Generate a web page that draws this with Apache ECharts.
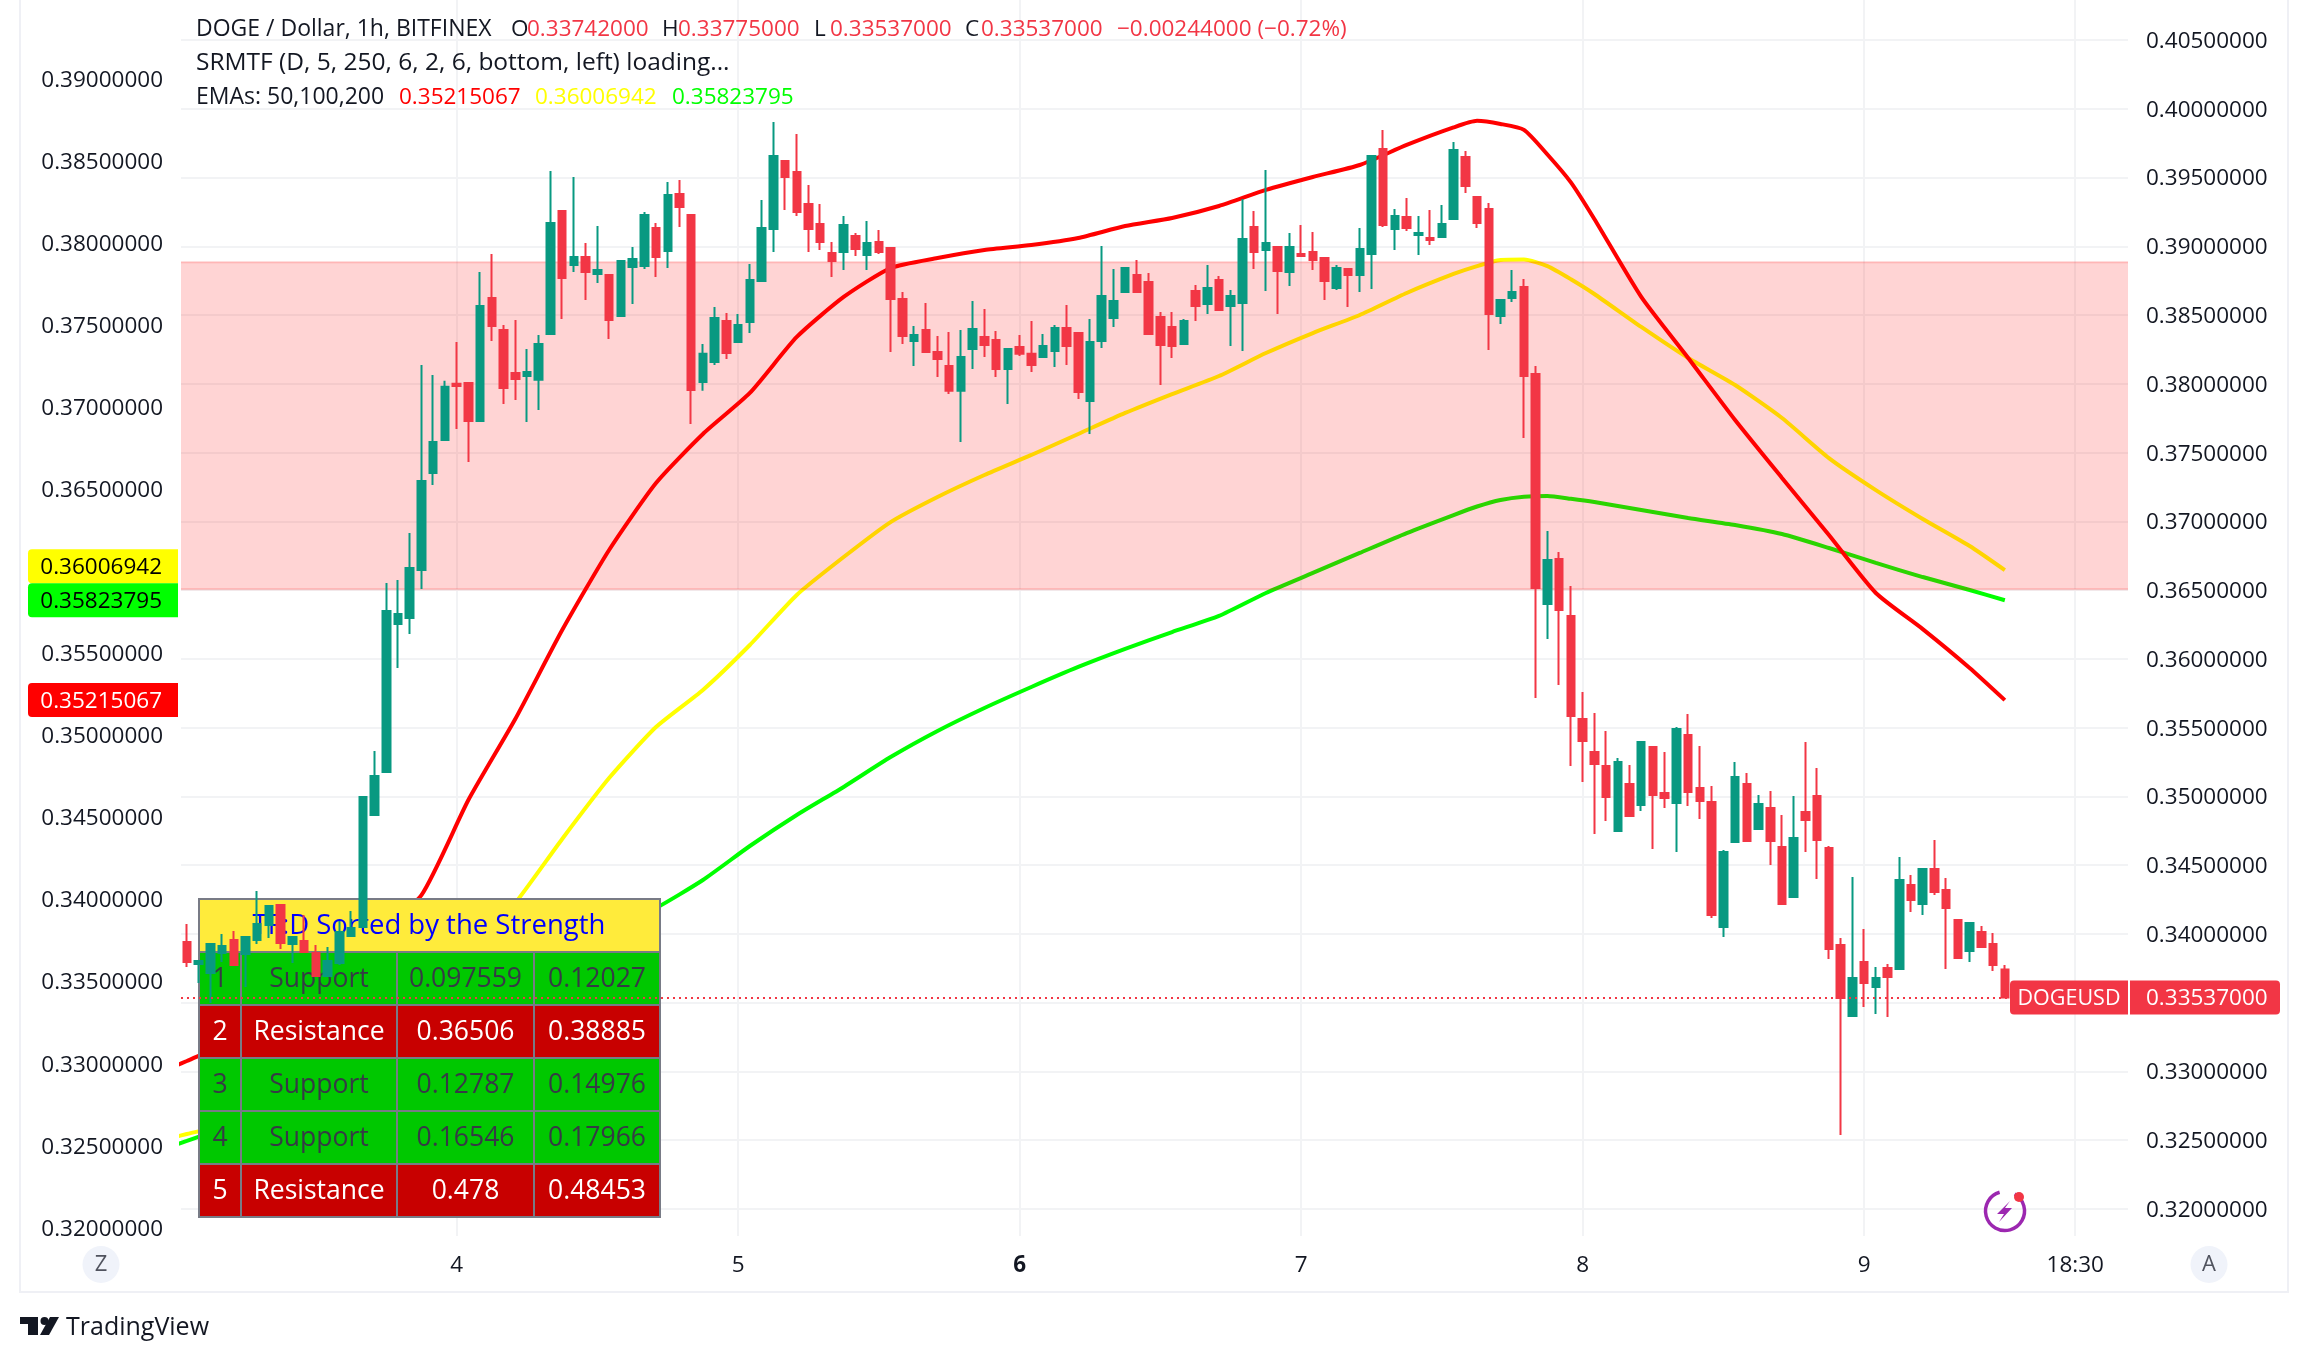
<!DOCTYPE html>
<html><head><meta charset="utf-8">
<style>html,body{margin:0;padding:0;background:#fff}#c{width:2308px;height:1362px}</style>
<script src="https://cdn.jsdelivr.net/npm/echarts@6/dist/echarts.min.js"></script>
</head><body><div id="c"></div>
<script>
// OHLC rows per calendar day: [open, close, low, high]
const day3 = [[.33942,.33796,.33760,.34072],[.33782,.33803,.33643,.33803],[.33716,.33927,.33498,.33934],[.33862,.33913,.33796,.34000],[.33956,.33774,.33774,.34022],[.33854,.33978,.33614,.33978],[.33956,.34072,.33927,.34312],[.34065,.34203,.33971,.34211],[.34211,.33934,.33891,.34211],[.33927,.33978,.33789,.33985],[.33949,.33869,.33869,.34138],[.33862,.33694,.33694,.33920],[.33694,.33803,.33694,.33905],[.33789,.34014,.33774,.34094],[.33985,.34043,.33985,.34167],[.34051,.34996,.34051,.35003],[.34865,.35149,.34865,.35330],[.35177,.36348,.35177,.36552],[.36254,.36326,.35934,.36573],[.36297,.36661,.36181,.36915],[.36647,.37294,.36508,.38137],[.37352,.37578,.37265,.38065],[.37592,.37978,.37592,.38022]];
const day4 = [[.38000,.37985,.37672,.38305],[.38007,.37730,.37432,.38007],[.37730,.38566,.37730,.38813],[.38625,.38421,.38312,.38944],[.38392,.37970,.37854,.38428],[.38079,.38036,.37883,.38465],[.38057,.38086,.37723,.38254],[.38029,.38290,.37810,.38355],[.38363,.39170,.38363,.39548],[.39257,.38770,.38472,.39257],[.38864,.38923,.38813,.39504],[.38923,.38813,.38610,.39024],[.38799,.38828,.38733,.39148],[.38791,.38465,.38326,.38791],[.38494,.38894,.38494,.38894],[.38850,.38908,.38581,.38995],[.38857,.39228,.38835,.39250],[.39133,.38923,.38777,.39170],[.38966,.39373,.38843,.39468],[.39380,.39286,.39141,.39482],[.39228,.37956,.37708,.39228],[.38014,.38218,.37949,.38290],[.38159,.38479,.38137,.38559],[.38457,.38225,.38181,.38515]];
const day5 = [[.38305,.38428,.38305,.38508],[.38450,.38755,.38370,.38872],[.38748,.39133,.38748,.39337],[.39126,.39657,.38959,.39904],[.39620,.39504,.39264,.39620],[.39541,.39250,.39221,.39817],[.39308,.39126,.38959,.39446],[.39162,.39032,.38973,.39308],[.38952,.38894,.38777,.39032],[.38959,.39155,.38828,.39221],[.39075,.38980,.38930,.39097],[.38937,.39024,.38828,.39184],[.39032,.38959,.38944,.39119],[.38988,.38617,.38232,.38988],[.38617,.38348,.38290,.38668],[.38312,.38355,.38130,.38421],[.38392,.38232,.38232,.38588],[.38232,.38181,.38050,.38348],[.38130,.37949,.37926,.38377],[.37949,.38196,.37578,.38392],[.38254,.38399,.38108,.38603],[.38341,.38283,.38196,.38545],[.38319,.38108,.38050,.38385],[.38108,.38254,.37854,.38254]];
const day6 = [[.38268,.38218,.38203,.38355],[.38218,.38137,.38086,.38457],[.38196,.38276,.38196,.38363],[.38239,.38406,.38123,.38428],[.38406,.38276,.38137,.38574],[.38370,.37941,.37890,.38370],[.37876,.38305,.37636,.38472],[.38312,.38639,.38261,.39003],[.38479,.38603,.38414,.38835],[.38668,.38843,.38661,.38843],[.38791,.38668,.38668,.38901],[.38741,.38363,.38363,.38806],[.38486,.38283,.37992,.38523],[.38414,.38276,.38188,.38523],[.38290,.38457,.38290,.38472],[.38675,.38566,.38457,.38719],[.38581,.38697,.38508,.38864],[.38755,.38537,.38530,.38784],[.38566,.38639,.38276,.38683],[.38588,.39053,.38239,.39344],[.39141,.38959,.38835,.39257],[.38973,.39024,.38675,.39555],[.38995,.38821,.38508,.38995],[.38813,.38995,.38712,.39097]];
const day7 = [[.38944,.38930,.38930,.39155],[.38959,.38901,.38828,.39104],[.38915,.38748,.38610,.38915],[.38697,.38843,.38683,.38864],[.38835,.38791,.38559,.38835],[.38791,.38980,.38668,.39133],[.38944,.39657,.38690,.39657],[.39708,.39155,.39141,.39846],[.39126,.39221,.38973,.39272],[.39213,.39133,.39112,.39352],[.39082,.39097,.38937,.39221],[.39061,.39046,.39010,.39264],[.39068,.39162,.39068,.39301],[.39199,.39700,.39199,.39759],[.39650,.39439,.39388,.39693],[.39359,.39170,.39133,.39359],[.39272,.38508,.38246,.39315],[.38494,.38610,.38435,.38610],[.38625,.38668,.38595,.38828],[.38705,.38057,.37607,.38763],[.38072,.36515,.35716,.38130],[.36399,.36719,.36145,.36930],[.36727,.36356,.35810,.36778],[.36312,.35585,.35221,.36530]];
const day8 = [[.35563,.35403,.35105,.35759],[.35323,.35236,.34727,.35607],[.35221,.34996,.34821,.35476],[.34749,.35250,.34749,.35279],[.35090,.34858,.34851,.35229],[.34938,.35396,.34894,.35396],[.35360,.35011,.34618,.35360],[.35025,.34989,.34916,.35323],[.34952,.35490,.34596,.35505],[.35447,.35032,.34931,.35599],[.35061,.34967,.34836,.35367],[.34960,.34138,.34116,.35076],[.34051,.34596,.33978,.34611],[.34669,.35141,.34669,.35250],[.35090,.34676,.34676,.35170],[.34763,.34945,.34763,.35011],[.34916,.34676,.34501,.35040],[.34632,.34218,.34218,.34865],[.34269,.34698,.34269,.35003],[.34887,.34829,.34596,.35396],[.35003,.34683,.34400,.35207],[.34625,.33891,.33818,.34640],[.33920,.33534,.32538,.33971],[.33403,.33680,.33403,.34414]];
const day9 = [[.33796,.33643,.33469,.34036],[.33614,.33680,.33418,.33760],[.33752,.33687,.33396,.33782],[.33745,.34392,.33738,.34560],[.34356,.34247,.34160,.34429],[.34218,.34472,.34138,.34472],[.34472,.34305,.34283,.34683],[.34320,.34189,.33745,.34407],[.34102,.33825,.33825,.34102],[.33876,.34080,.33796,.34080],[.34014,.33905,.33905,.34058],[.33927,.33774,.33731,.34007],[.33742,.33537,.33537,.33775]];

// EMA readings, mostly every fourth candle (extra readings around the peak), plus the last one
const emaIndex = [-1,0,4,8,12,16,20,24,28,32,36,40,44,48,52,56,60,64,68,72,76,80,84,88,92,96,100,104,108,110,112,114,116,118,120,124,128,132,136,140,144,148,152,155];
const ema50 = [.32985,.33016,.33144,.33327,.33540,.33784,.34027,.34606,.35100,.35642,.36130,.36538,.36837,.37087,.37428,.37672,.37848,.37909,.37958,.37988,.38031,.38104,.38153,.38226,.38324,.38403,.38476,.38598,.38705,.38745,.38726,.38690,.38540,.38370,.38147,.37672,.37300,.36922,.36569,.36221,.35868,.35648,.35411,.35215067];
const ema100 = [.32553,.32571,.32638,.32748,.32931,.33144,.33388,.33662,.33979,.34369,.34740,.35051,.35277,.35551,.35856,.36087,.36300,.36453,.36587,.36709,.36837,.36965,.37080,.37190,.37330,.37452,.37562,.37696,.37812,.37860,.37897,.37900,.37860,.37780,.37690,.37489,.37300,.37135,.36934,.36690,.36495,.36319,.36154,.36006942];
const ema200 = [.32504,.32529,.32632,.32760,.32888,.33022,.33174,.33339,.33491,.33644,.33814,.33948,.34119,.34326,.34515,.34686,.34868,.35027,.35167,.35295,.35417,.35527,.35630,.35728,.35868,.35990,.36112,.36233,.36343,.36395,.36435,.36455,.36459,.36442,.36422,.36374,.36325,.36282,.36227,.36142,.36051,.35965,.35886,.35823795];

const xTicks = {23:'4',47:'5',71:'6',95:'7',119:'8',143:'9',161:'18:30'};
const leftTicks = [.32,.325,.33,.335,.34,.345,.35,.355,.36,.365,.37,.375,.38,.385,.39];
const rightTicks = [.32,.325,.33,.335,.34,.345,.35,.355,.36,.365,.37,.375,.38,.385,.39,.395,.4,.405];

const tableTitle = 'TF:D Sorted by the Strength';
const rankCol = ['1','2','3','4','5'];
const typeCol = ['Support','Resistance','Support','Support','Resistance'];
const lowCol = ['0.097559','0.36506','0.12787','0.16546','0.478'];
const highCol = ['0.12027','0.38885','0.14976','0.17966','0.48453'];

const lastPrice = 0.33537;
const lastPriceText = '0.33537000';
const symbolName = 'DOGEUSD';
const emaLast = ['0.35215067','0.36006942','0.35823795'];

const headerTitle = 'DOGE / Dollar, 1h, BITFINEX';
const ohlcLabels = ['O','H','L','C'];
const ohlcValues = ['0.33742000','0.33775000','0.33537000','0.33537000'];
const changeText = '\u22120.00244000 (\u22120.72%)';
const line2Text = 'SRMTF (D, 5, 250, 6, 2, 6, bottom, left) loading...';
const line3Text = 'EMAs: 50,100,200';

// ---------- build ----------
const FONT = '"Open Sans"';
const INK = '#131722', UP = '#089981', DOWN = '#f23645', GRID = '#f2f3f5';
const candles = [].concat(day3, day4, day5, day6, day7, day8, day9);
const categories = Array.from({length:166}, (_, i) => xTicks[i] || '');
const pairs = arr => arr.map((v, i) => [emaIndex[i], v]);
const f = (s, w) => (w ? w + ' ' : '') + s + 'px ' + FONT;

function text(x, y, s, fill, font, align) {
  return {type:'text', x, y, z:30, style:{text:s, fill, font, align:align||'left', verticalAlign:'middle', textAlign:align||'left', textVerticalAlign:'middle'}};
}
function box(x, y, w, h, fill, z) {
  return {type:'rect', z:z||30, shape:{x, y, width:w, height:h}, style:{fill}};
}
function seg(x1, y1, x2, y2, stroke, lw, z) {
  return {type:'line', z:z||30, shape:{x1, y1, x2, y2}, style:{stroke, lineWidth:lw}};
}

const g = [];
// outer frame
g.push(seg(20,0,20,1293,'#eff0f5',2,1), seg(2288,0,2288,1293,'#eff0f5',2,1), seg(20,1292,2288,1292,'#eff0f5',2,1));
// legend
const lx = [511,662,814,965];
g.push(text(196,29.5,headerTitle,INK,f(23)));
ohlcLabels.forEach((l,i)=>{ g.push(text(lx[i],29.5,l,INK,f(22.5))); g.push(text(lx[i]+16,29.5,ohlcValues[i],DOWN,f(22.5))); });
g.push(text(1117,29.5,changeText,DOWN,f(22.5)));
g.push(text(196,63.5,line2Text,INK,f(24.5)));
g.push(text(196,97.5,line3Text,INK,f(23)));
g.push(text(399,97.5,emaLast[0],'#ff0000',f(22.5)), text(535,97.5,emaLast[1],'#ffff00',f(22.5)), text(672,97.5,emaLast[2],'#00ff00',f(22.5)));
// table
const colX = [199,241,397,534,660], rowY = [899,952,1005,1058,1111,1164,1217];
g.push(box(199,899,461,53,'#ffeb3b',6));
g.push(text(429,926,tableTitle,'#0000ff',f(27.5),'center'));
rankCol.forEach((r,i)=>{
  const res = typeCol[i]==='Resistance', y0=rowY[i+1], fg=res?'#ffffff':'#363a45', yc=y0+27;
  g.push(box(199,y0,461,53,res?'#c80000':'#00c800',6));
  g.push(text(220,yc,r,fg,f(26.5),'center'), text(319,yc,typeCol[i],fg,f(26.5),'center'), text(465.5,yc,lowCol[i],fg,f(26.5),'center'), text(597,yc,highCol[i],fg,f(26.5),'center'));
});
rowY.forEach(y=>g.push(seg(198,y,661,y,'#787b86',2,7)));
colX.forEach((x,i)=>g.push(seg(x,(i===0||i===4)?898:952,x,1218,'#787b86',2,7)));
g.forEach(e=>{ if(e.type==='text' && e.y>890) e.z=7; });
// corner buttons
g.push({type:'circle',z:30,shape:{cx:101,cy:1264.5,r:18.5},style:{fill:'#f0f3fa'}}, text(101,1264.5,'Z','#50535e',f(22),'center'));
g.push({type:'circle',z:30,shape:{cx:2209,cy:1264.5,r:18.5},style:{fill:'#f0f3fa'}}, text(2209,1264.5,'A','#50535e',f(22),'center'));
// wordmark
g.push({type:'polygon',z:30,shape:{points:[[20,1317],[38,1317],[38,1335],[28,1335],[28,1324],[20,1324]]},style:{fill:INK}});
g.push({type:'circle',z:30,shape:{cx:44.5,cy:1321,r:4},style:{fill:INK}});
g.push({type:'polygon',z:30,shape:{points:[[50,1317],[59,1317],[49,1335],[40,1335]]},style:{fill:INK}});
g.push(text(66,1327.5,'TradingView',INK,f(25)));
// lightning badge
g.push({type:'arc',z:30,shape:{cx:2005,cy:1211,r:19.5,startAngle:-1.05,endAngle:-1.85,clockwise:true},style:{stroke:'#9c27b0',lineWidth:3.5,fill:null}});
g.push({type:'polygon',z:30,shape:{points:[[2010,1201],[1997,1214],[2004,1214],[1999,1222],[2012,1208],[2005,1208]]},style:{fill:'#9c27b0'}});
g.push({type:'circle',z:30,shape:{cx:2019,cy:1197,r:5},style:{fill:'#f23645'}});

const axisText = {color:INK, fontFamily:'Open Sans', fontSize:22.5};
const option = {
  animation:false, backgroundColor:'#ffffff',
  grid:{left:181,right:180,top:0,bottom:126,containLabel:false},
  graphic:{elements:g},
  xAxis:{type:'category',data:categories,boundaryGap:true,
    axisLine:{show:false},axisTick:{show:false},
    axisLabel:Object.assign({},axisText,{margin:18,interval:(i,v)=>v!=='',hideOverlap:false,
      formatter:v=>v==='6'?'{b|6}':v,rich:{b:{fontWeight:'bold',fontFamily:'Open Sans',fontSize:22.5,color:INK}}}),
    splitLine:{show:true,alignWithLabel:true,interval:(i,v)=>v!=='',lineStyle:{color:GRID,width:2}}},
  yAxis:[
    {type:'value',position:'left',min:0.319495,max:0.394814,scale:true,
      axisLine:{show:false},axisTick:{show:false,customValues:leftTicks},splitLine:{show:false},
      axisLabel:Object.assign({},axisText,{margin:18,verticalAlign:'top',lineHeight:3,customValues:leftTicks,formatter:v=>v.toFixed(8)})},
    {type:'value',position:'right',min:0.318037,max:0.40791,scale:true,
      axisLine:{show:false},axisTick:{show:false,customValues:rightTicks},splitLine:{show:true,lineStyle:{color:GRID,width:2}},
      axisLabel:Object.assign({},axisText,{margin:18,verticalAlign:'top',lineHeight:3,customValues:rightTicks,formatter:v=>v.toFixed(8)})}
  ],
  series:[
    {name:'EMA200',type:'line',yAxisIndex:0,z:2,data:pairs(ema200),symbol:'none',smooth:0.2,lineStyle:{color:'#00ff00',width:4}},
    {name:'EMA100',type:'line',yAxisIndex:0,z:2,data:pairs(ema100),symbol:'none',smooth:0.2,lineStyle:{color:'#ffff00',width:4}},
    {name:'EMA50',type:'line',yAxisIndex:0,z:2,data:pairs(ema50),symbol:'none',smooth:0.2,lineStyle:{color:'#ff0000',width:4}},
    {name:'Zone',type:'custom',yAxisIndex:1,z:3,silent:true,
      data:[[0,parseFloat(lowCol[1]),parseFloat(highCol[1])]],encode:{x:0,y:[1,2]},
      renderItem(p,api){
        const cs=p.coordSys, y1=api.coord([0,api.value(2)])[1], y2=api.coord([0,api.value(1)])[1];
        return {type:'group',children:[
          {type:'rect',shape:{x:cs.x,y:y1,width:cs.width,height:y2-y1},style:{fill:'rgba(255,0,0,0.17)'}},
          {type:'line',shape:{x1:cs.x,y1:y1,x2:cs.x+cs.width,y2:y1},style:{stroke:'rgba(255,0,0,0.18)',lineWidth:2}},
          {type:'line',shape:{x1:cs.x,y1:y2,x2:cs.x+cs.width,y2:y2},style:{stroke:'rgba(255,0,0,0.18)',lineWidth:2}}
        ]};
      }},
    {name:'DOGEUSD',type:'candlestick',yAxisIndex:1,z:8,data:candles,barWidth:8,
      itemStyle:{color:UP,color0:DOWN,borderColor:UP,borderColor0:DOWN,borderWidth:2},
      markLine:{silent:true,symbol:'none',z:9,animation:false,precision:8,label:{show:false},
        data:[{yAxis:lastPrice}],lineStyle:{color:DOWN,type:[2,4],width:2}}},
    {name:'EMA tags',type:'custom',yAxisIndex:0,z:20,silent:true,clip:false,
      data:emaLast.map((v,i)=>[i,parseFloat(v)]),encode:{x:0,y:1},
      renderItem(p,api){
        const i=api.value(0), fills=['#ff0000','#ffff00','#00ff00'], inks=['#ffffff','#000000','#000000'];
        let y=api.coord([0,api.value(1)])[1];
        if(i===1){ const yg=api.coord([0,parseFloat(emaLast[2])])[1]; if(yg-y<34) y=yg-34; }
        return {type:'group',children:[
          {type:'rect',shape:{x:28,y:y-17,width:150,height:34,r:[4,0,0,4]},style:{fill:fills[i]}},
          {type:'text',style:{x:162,y:y+1,text:emaLast[i],fill:inks[i],font:f(22.5),align:'right',verticalAlign:'middle',textAlign:'right',textVerticalAlign:'middle'}}
        ]};
      }},
    {name:'Price tag',type:'custom',yAxisIndex:1,z:20,silent:true,clip:false,
      data:[[0,lastPrice]],encode:{x:0,y:1},
      renderItem(p,api){
        const y=api.coord([0,api.value(1)])[1];
        return {type:'group',children:[
          {type:'rect',shape:{x:2010,y:y-17,width:118,height:34,r:[4,0,0,4]},style:{fill:DOWN}},
          {type:'rect',shape:{x:2130,y:y-17,width:150,height:34,r:[0,4,4,0]},style:{fill:DOWN}},
          {type:'text',style:{x:2069,y:y+1,text:symbolName,fill:'#fff',font:f(21.5),align:'center',verticalAlign:'middle',textAlign:'center',textVerticalAlign:'middle'}},
          {type:'text',style:{x:2146,y:y+1,text:lastPriceText,fill:'#fff',font:f(22.5),align:'left',verticalAlign:'middle',textAlign:'left',textVerticalAlign:'middle'}}
        ]};
      }}
  ]
};
const chart = echarts.init(document.getElementById('c'),null,{renderer:'canvas',width:2308,height:1362});
chart.setOption(option);
</script></body></html>
